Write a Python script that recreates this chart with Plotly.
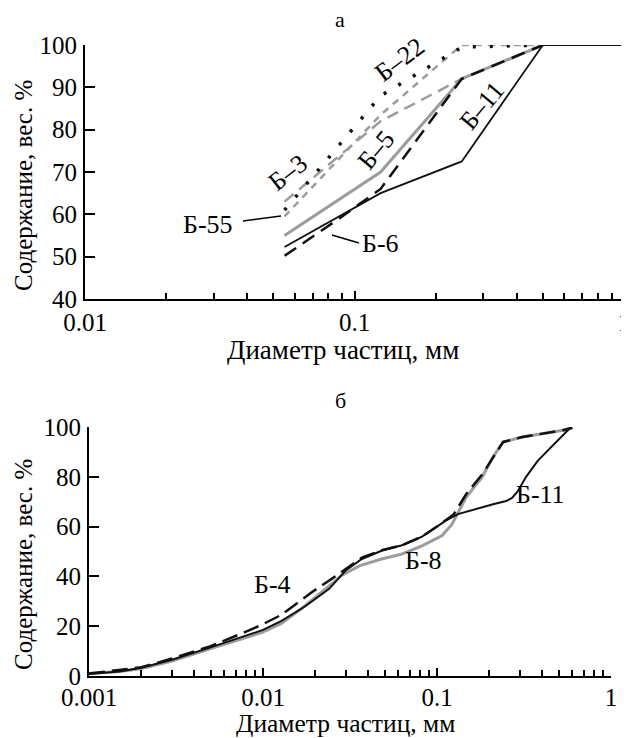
import numpy as np
import plotly.graph_objects as go

FONT = "Liberation Serif, Times New Roman, Times, serif"

# ---------------- Panel a (top) ----------------
a_b11_x = [0.055, 0.125, 0.25, 0.5, 1.0]
a_b11_y = [52.3, 65.0, 72.5, 100.0, 100.0]

a_b6_x = [0.055, 0.09, 0.125, 0.25, 0.5]
a_b6_y = [50.2, 59.5, 66.0, 92.0, 100.0]

a_b5_x = [0.055, 0.125, 0.25, 0.5]
a_b5_y = [55.0, 70.0, 92.0, 100.0]

a_b22_x = [0.055, 0.125, 0.25, 0.5]
a_b22_y = [61.0, 88.0, 99.5, 100.0]

a_b3_x = [0.055, 0.125, 0.25, 0.5]
a_b3_y = [63.0, 82.0, 92.0, 100.0]

a_b55_x = [0.055, 0.125, 0.25, 0.5]
a_b55_y = [59.5, 83.5, 100.0, 100.0]

# ---------------- Panel б (bottom) ----------------
b_b11_x = [0.001, 0.0015, 0.002, 0.003, 0.005, 0.0075, 0.01, 0.0127, 0.0175, 0.024,
           0.03, 0.037, 0.048, 0.063, 0.082, 0.1, 0.113, 0.132, 0.164, 0.21, 0.25,
           0.27, 0.29, 0.325, 0.38, 0.47, 0.58]
b_b11_y = [0.8, 1.8, 3.3, 6.5, 11.5, 15.5, 18.5, 22.0, 28.0, 35.0,
           42.5, 47.0, 50.3, 52.5, 56.0, 60.0, 62.5, 65.0, 67.0, 69.0, 70.3,
           71.5, 74.0, 80.0, 86.5, 93.0, 99.5]

b_b8_x = [0.001, 0.0015, 0.002, 0.003, 0.005, 0.0075, 0.0098, 0.0127, 0.0166, 0.022,
          0.0284, 0.036, 0.048, 0.063, 0.082, 0.107, 0.122, 0.147, 0.182, 0.21,
          0.24, 0.31, 0.40, 0.53, 0.6]
b_b8_y = [1.0, 1.8, 3.0, 6.0, 11.0, 15.0, 17.4, 21.0, 27.0, 34.0,
          40.5, 44.3, 47.0, 49.0, 52.3, 56.4, 61.0, 71.8, 80.0, 88.0,
          94.0, 96.0, 97.3, 98.7, 99.7]

b_b4_x = [0.001, 0.002, 0.003, 0.005, 0.0075, 0.0098, 0.0127, 0.0194, 0.0254, 0.03,
          0.037, 0.048, 0.063, 0.082, 0.1, 0.125, 0.147, 0.182, 0.21, 0.24,
          0.31, 0.40, 0.53, 0.6]
b_b4_y = [1.0, 3.5, 7.0, 12.0, 17.0, 20.5, 24.5, 34.0, 39.5, 43.0,
          47.5, 50.5, 52.5, 56.0, 60.0, 65.0, 73.0, 81.0, 88.0, 94.0,
          96.0, 97.3, 98.7, 99.7]

GRAY = "#9c9c9c"
BLACK = "#111111"

fig = go.Figure()

def add(x, y, color, width, dash, xa, ya):
    fig.add_trace(go.Scatter(x=x, y=y, mode="lines", xaxis=xa, yaxis=ya,
                             line=dict(color=color, width=width, dash=dash),
                             showlegend=False, hoverinfo="skip"))

# top
add(a_b3_x, a_b3_y, GRAY, 2.5, "12px,7px", "x", "y")
add(a_b55_x, a_b55_y, GRAY, 2.5, "7px,6px", "x", "y")
add(a_b5_x, a_b5_y, GRAY, 3, "solid", "x", "y")
add(a_b22_x, a_b22_y, BLACK, 3.5, "3px,14px", "x", "y")
add(a_b6_x, a_b6_y, BLACK, 2.5, "14px,8px", "x", "y")
add(a_b11_x, a_b11_y, BLACK, 1.8, "solid", "x", "y")

# bottom
add(b_b8_x, b_b8_y, GRAY, 3, "solid", "x2", "y2")
add(b_b11_x, b_b11_y, BLACK, 2, "solid", "x2", "y2")
add(b_b4_x, b_b4_y, BLACK, 2.5, "16px,7px", "x2", "y2")

W, H = 629, 738
OFF = 8  # page body margin offset

def px2x(px):
    return (px - OFF) / W

def py2y(py):
    return 1 - (py - OFF) / H

def xdom(l, r):
    return [px2x(l), px2x(r)]

def ydom(top, bot):
    return [py2y(bot), py2y(top)]

tickfont = dict(family=FONT, size=25, color="black")

minor_a = [k * 10 ** e for e in (-2, -1) for k in range(2, 10)]
minor_b = [k * 10 ** e for e in (-3, -2, -1) for k in range(2, 10)]

common = dict(showgrid=False, zeroline=False, showline=True, linecolor="black",
              linewidth=2, ticks="inside", tickcolor="black", tickwidth=2,
              tickfont=tickfont, automargin=False)

fig.update_layout(
    width=W, height=H, margin=dict(l=0, r=0, t=0, b=0, autoexpand=False),
    plot_bgcolor="white", paper_bgcolor="white",
    font=dict(family=FONT, color="black"),
    xaxis=dict(type="log", range=[-2, 0], domain=xdom(85, 624), anchor="y",
               tickvals=[0.01, 0.1, 1], ticktext=["0.01", "0.1", "1"], ticklen=8,
               minor=dict(tickvals=minor_a, ticks="inside", ticklen=6, tickwidth=2,
                          tickcolor="black", showgrid=False),
               ticklabelstandoff=0, **common),
    yaxis=dict(range=[40, 100], domain=ydom(45, 299), anchor="x",
               tickvals=[40, 50, 60, 70, 80, 90, 100], ticklen=10,
               ticklabelstandoff=1, **common),
    xaxis2=dict(type="log", range=[-3, 0], domain=xdom(89, 611), anchor="y2",
                tickvals=[0.001, 0.01, 0.1, 1], ticktext=["0.001", "0.01", "0.1", "1"],
                ticklen=8,
                minor=dict(tickvals=minor_b, ticks="inside", ticklen=6, tickwidth=2,
                           tickcolor="black", showgrid=False),
                ticklabelstandoff=-2, **common),
    yaxis2=dict(range=[0, 100], domain=ydom(427, 676), anchor="x2",
                tickvals=[0, 20, 40, 60, 80, 100], ticklen=10,
                ticklabelstandoff=1, **common),
)

def pann(text, px, py, size=25, angle=0):
    fig.add_annotation(text=text, x=px2x(px), y=py2y(py),
                       xref="paper", yref="paper",
                       showarrow=False, textangle=angle,
                       font=dict(family=FONT, size=size, color="black"),
                       xanchor="center", yanchor="middle")

# panel letters and axis titles
pann("а", 340, 19, 22)
pann("б", 340, 401, 22)
pann("Диаметр частиц, мм", 343, 350, 27)
pann("Диаметр частиц, мм", 345, 723.5, 25.5)
pann("Содержание, вес. %", 24, 186, 25, -90)
pann("Содержание, вес. %", 23, 565, 25, -90)

def dann(text, lx, y, xa, ya, angle=0, size=26):
    fig.add_annotation(text=text, x=lx, y=y, xref=xa, yref=ya, showarrow=False,
                       textangle=angle, font=dict(family=FONT, size=size, color="black"),
                       xanchor="center", yanchor="middle")

# top curve labels (x given as log10 for log axes)
dann("Б–3", -1.247, 70.0, "x", "y", -38)
dann("Б–22", -0.831, 96.5, "x", "y", -37)
dann("Б–5", -0.917, 75.2, "x", "y", -50)
dann("Б–11", -0.527, 85.8, "x", "y", -50)
dann("Б-55", -1.544, 57.5, "x", "y")
dann("Б-6", -0.902, 53.2, "x", "y")

# leader lines (paper coordinates)
def leader(x0, y0, x1, y1):
    fig.add_shape(type="line", xref="paper", yref="paper",
                  x0=px2x(x0), y0=py2y(y0), x1=px2x(x1), y1=py2y(y1),
                  line=dict(color="black", width=1.5))

leader(243, 221, 281, 216)
leader(332, 235, 359, 243)

# bottom curve labels
dann("Б-11", -0.408, 72.7, "x2", "y2")
dann("Б-8", -1.075, 46.4, "x2", "y2")
dann("Б-4", -1.943, 36.9, "x2", "y2")

fig.write_html("out.html")
